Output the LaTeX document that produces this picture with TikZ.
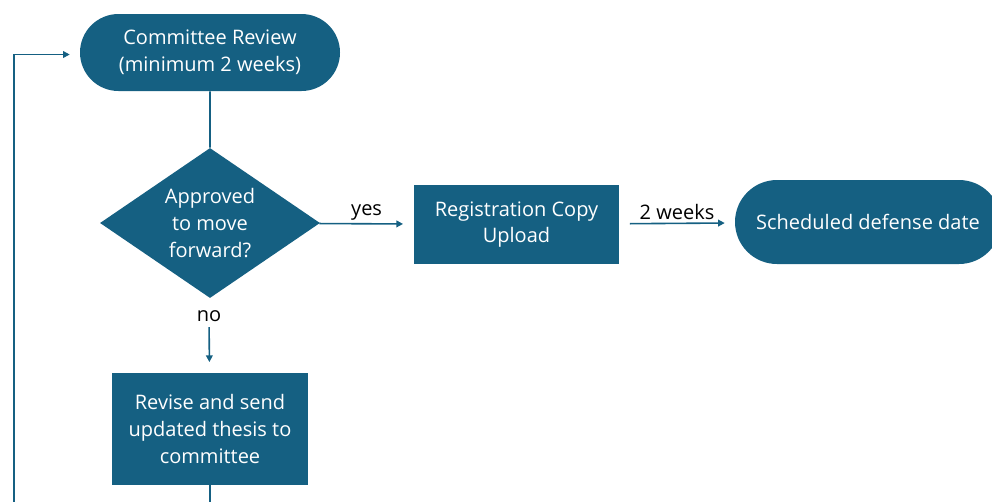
\documentclass[tikz,border=0pt]{standalone}
\usepackage{fontspec}
\setmainfont{Open Sans}
\usetikzlibrary{shapes.geometric, shapes.misc, arrows.meta, positioning, calc}
\definecolor{thesisBlue}{HTML}{156082}
\definecolor{thesisText}{RGB}{255, 255, 255}

\begin{document}
\begin{tikzpicture}[x=0.75pt, y=-0.75pt,
        every node/.style={font=\fontsize{15}{20}\selectfont},
        term/.style={rounded rectangle, fill=thesisBlue, text=thesisText, align=center, inner sep=0pt},
        box/.style={rectangle, fill=thesisBlue, text=thesisText, align=center, inner sep=0pt},
        decision/.style={diamond, fill=thesisBlue, text=thesisText, align=center, inner sep=-4pt, minimum width=165pt, minimum height=112.5pt},
        lbl/.style={text=black, inner sep=1pt},
        arr/.style={-{Triangle[length=5pt, width=5pt]}, line width=1.2pt, thesisBlue},
        link/.style={line width=1.2pt, thesisBlue}
      ]
        \useasboundingbox (0,0) rectangle (992,501);
        \node[term, minimum width=195pt, minimum height=57.75pt] (review) at (210,52.5) {Committee Review\\(minimum 2 weeks)};
        \node[decision] (approved) at (210,223) {Approved\\to move\\forward?};
        \node[box, minimum width=153.75pt, minimum height=59.25pt] (upload) at (516.5,224.5) {Registration Copy\\Upload};
        \node[term, minimum width=199.5pt, minimum height=63pt] (defense) at (868,222) {Scheduled defense date};
        \node[lbl] (no) at (209,316) {no};
        \node[box, minimum width=147pt, minimum height=84pt] (revise) at (210,429) {Revise and send\\updated thesis to\\committee};
        \coordinate (loopbot) at (14,540);
        \draw[link] (review) -- (approved);
        \draw[arr, shorten >=8pt] (approved) -- node[lbl, above=1pt] {yes} (upload);
        \draw[arr, shorten <=8pt, shorten >=7.5pt] (upload) -- node[lbl, above=1pt] {2 weeks} (defense);
        \draw[arr, shorten <=3pt, shorten >=8pt] (no) -- (revise);
        \draw[link] (revise.south) |- (loopbot);
        \draw[arr, shorten >=7.5pt] (loopbot) |- ([yshift=-1.5pt]review.west);
      \end{tikzpicture}
\end{document}
